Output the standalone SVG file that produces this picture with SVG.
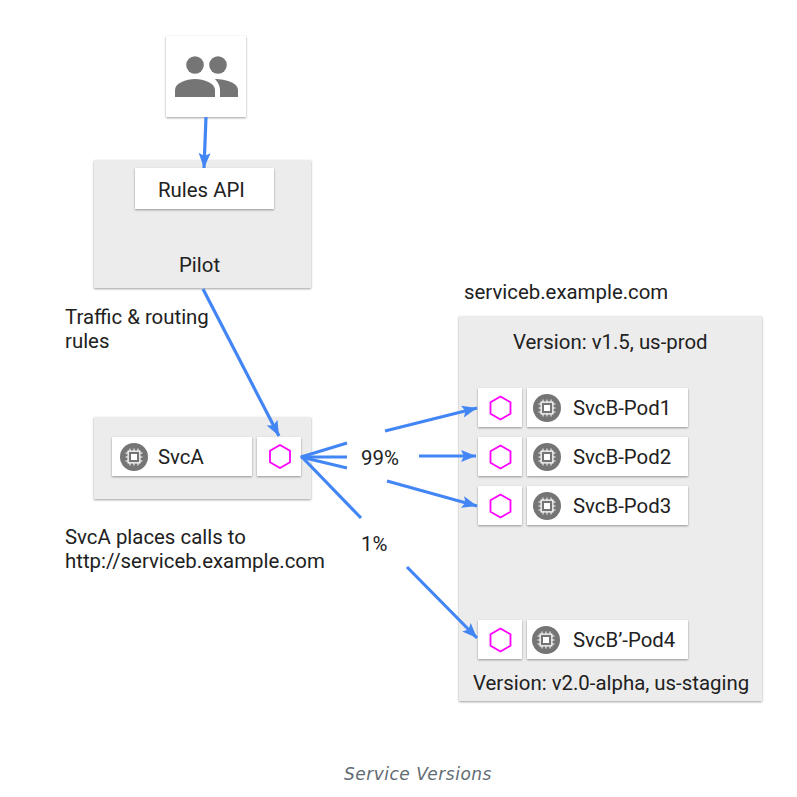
<svg xmlns="http://www.w3.org/2000/svg" width="797" height="797" viewBox="0 0 797 797">
<style>
text{font-family:Roboto,"Liberation Sans",sans-serif;font-size:20.4px;fill:#212121}
.cap{font-family:"DejaVu Sans",sans-serif;font-size:17px;font-style:italic;fill:#5f6b73;letter-spacing:0.5px}
.g{fill:#ececec;filter:url(#s)}
.w{fill:#fff;filter:url(#s)}
.hex{fill:none;stroke:#f0f;stroke-width:1.8}
.c{fill:#757575}
.l{stroke:#4285f4;stroke-width:3.2;fill:none;marker-end:url(#a)}
.p{stroke:#4285f4;stroke-width:3.2;fill:none}
</style>
<defs>
<filter id="s" x="-10%" y="-10%" width="120%" height="125%"><feDropShadow dx="0" dy="1" stdDeviation="0.9" flood-color="#000" flood-opacity="0.38"/></filter>
<marker id="a" markerUnits="userSpaceOnUse" markerWidth="16" markerHeight="14" refX="15" refY="6" orient="auto"><path d="M0 0L15 6L0 12L3 6Z" fill="#4285f4"/></marker>
<g id="chip">
<circle r="14" class="c"/>
<path d="M-4-8.500V8.500M0-8.500V8.500M4-8.500V8.500M-8.500-4H8.500M-8.500 0H8.500M-8.500 4H8.500" stroke="#fff" stroke-width="1"/>
<rect x="-6.500" y="-6.500" width="13" height="13" fill="#fff"/>
<rect x="-5.200" y="-5.200" width="10.400" height="10.400" fill="#757575"/>
<rect x="-3" y="-3" width="6" height="6" fill="#fff"/>
</g>
<path id="h" class="hex" d="M0-11.500L10-5.750V5.750L0 11.500L-10 5.750V-5.750Z"/>
</defs>
<rect width="797" height="797" fill="#fff"/>
<g id="users">
<rect class="w" x="166" y="36" width="80" height="81"/>
<circle class="c" cx="195" cy="65" r="8.800"/>
<circle class="c" cx="218" cy="65" r="8.800"/>
<path class="c" d="M175 97V90C175 83 186 79 195 79C204 79 215 83 215 90V97Z"/>
<path class="c" d="M215 79C226 79 238 83 238 90V97H220V90C220 86 218 82 215 79Z"/>
</g>
<g id="pilot">
<rect class="g" x="94" y="160" width="217" height="128"/>
<rect class="w" x="135" y="168" width="139" height="41"/>
<text x="158" y="197">Rules API</text>
<text x="179" y="272">Pilot</text>
</g>
<g id="svcA-box">
<rect class="g" x="94" y="417" width="217" height="82"/>
<rect class="w" x="112" y="437" width="140" height="39"/>
<use href="#chip" x="134" y="457"/>
<text x="158" y="464">SvcA</text>
<rect class="w" x="257" y="437" width="44" height="39"/>
<use href="#h" x="280" y="456.500"/>
</g>
<g id="serviceb">
<rect class="g" x="459" y="316" width="303" height="385"/>
<text x="513" y="349">Version: v1.5, us-prod</text>
<text x="473" y="690">Version: v2.0-alpha, us-staging</text>
</g>
<g id="pod1">
<rect class="w" x="478" y="388" width="44" height="39"/>
<use href="#h" x="500.500" y="408"/>
<rect class="w" x="527" y="388" width="161" height="39"/>
<use href="#chip" x="547" y="408"/>
<text x="573" y="415">SvcB-Pod1</text>
</g>
<g id="pod2">
<rect class="w" x="478" y="437" width="44" height="39"/>
<use href="#h" x="500.500" y="457"/>
<rect class="w" x="527" y="437" width="161" height="39"/>
<use href="#chip" x="547" y="457"/>
<text x="573" y="464">SvcB-Pod2</text>
</g>
<g id="pod3">
<rect class="w" x="478" y="486" width="44" height="39"/>
<use href="#h" x="500.500" y="506"/>
<rect class="w" x="527" y="486" width="161" height="39"/>
<use href="#chip" x="547" y="506"/>
<text x="573" y="513">SvcB-Pod3</text>
</g>
<g id="pod4">
<rect class="w" x="478" y="620" width="44" height="39"/>
<use href="#h" x="500.500" y="640"/>
<rect class="w" x="527" y="620" width="161" height="39"/>
<use href="#chip" x="546" y="640"/>
<text x="573" y="647">SvcB’-Pod4</text>
</g>
<g id="connectors">
<path class="l" d="M206 117L204 168"/>
<path class="l" d="M203 289L279 436"/>
<path class="p" d="M301 457L347 443"/>
<path class="p" d="M301 457H347"/>
<path class="p" d="M301 457L347 468"/>
<path class="p" d="M301 456L361 518"/>
<path class="l" d="M385 431L477 408"/>
<path class="l" d="M419 456H476"/>
<path class="l" d="M387 481L477 506"/>
<path class="l" d="M407 567L477 638"/>
</g>
<g id="labels">
<text x="65" y="324">Traffic &amp; routing</text>
<text x="65" y="348">rules</text>
<text x="464" y="299">serviceb.example.com</text>
<text x="65" y="544">SvcA places calls to</text>
<text x="65" y="568">http://serviceb.example.com</text>
<text x="361" y="465">99%</text>
<text x="361" y="551">1%</text>
<text class="cap" x="344" y="780">Service Versions</text>
</g>
</svg>
